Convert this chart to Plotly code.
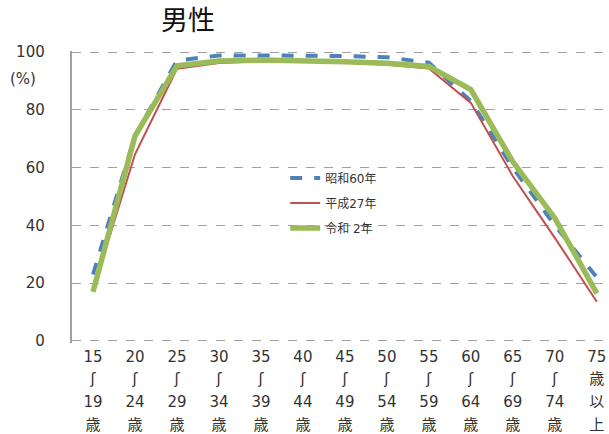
import plotly.graph_objects as go

ages_from = ["15", "20", "25", "30", "35", "40", "45", "50", "55", "60", "65", "70"]
ages_to = ["19", "24", "29", "34", "39", "44", "49", "54", "59", "64", "69", "74"]
categories = [f"{a}–{b}" for a, b in zip(ages_from, ages_to)] + ["75+"]
tick_labels = [f'<span style="font-size:15px">{a}<br>ʃ<br>{b}<br>歳</span>'
               for a, b in zip(ages_from, ages_to)] + \
              ['<span style="font-size:15px">75<br>歳<br>以<br>上</span>']
y_ticks = [0, 20, 40, 60, 80, 100]

s60 = [23, 71, 97, 98.8, 98.8, 98.8, 98.6, 98.2, 96.3, 83, 60, 40, 22]
h27 = [17.5, 64.6, 94.2, 96.2, 96.8, 96.8, 96.3, 95.6, 94.3, 82.4, 57, 35.7, 13.6]
r2 = [17, 70.9, 95.2, 96.9, 97.2, 97.0, 96.6, 96.1, 95.0, 87, 62, 42.5, 16.5]

font_family = "DejaVu Sans, Noto Sans CJK JP, sans-serif"

fig = go.Figure()
fig.add_trace(go.Scatter(x=categories, y=s60, mode="lines", name="昭和60年",
                         line=dict(color="#4F81BD", width=4, dash="dash"),
                         legendgroup="a"))
fig.add_trace(go.Scatter(x=categories, y=h27, mode="lines", name="平成27年",
                         line=dict(color="#C0504D", width=2),
                         legendgroup="b"))
fig.add_trace(go.Scatter(x=categories, y=r2, mode="lines", name="令和 2年",
                         line=dict(color="#9BBB59", width=5.5),
                         legendgroup="c"))

fig.update_layout(
    width=609, height=434,
    margin=dict(l=72, r=0, t=51, b=89),
    paper_bgcolor="white", plot_bgcolor="white",
    font=dict(family=font_family, color="#333333"),
    showlegend=True,
    legend=dict(x=0.397, y=0.615, xanchor="left", yanchor="top",
                font=dict(size=12, color="#333333"),
                traceorder="grouped", tracegroupgap=6,
                bgcolor="rgba(0,0,0,0)"),
    annotations=[
        dict(text="男性", xref="paper", yref="paper",
             x=(188 - 72) / 537, y=(343 - 20) / 291, xanchor="center", yanchor="middle",
             showarrow=False, font=dict(size=27, color="#111111",
                                        family="Noto Sans CJK JP, sans-serif")),
        dict(text="(%)", xref="paper", yref="paper",
             x=(23 - 72) / 537, y=(343 - 80) / 291, xanchor="center", yanchor="middle",
             showarrow=False, font=dict(size=15, color="#333333")),
    ],
)

fig.update_xaxes(
    type="category", range=[-0.5, 12.29],
    tickvals=categories, ticktext=tick_labels,
    showgrid=False, showline=False, zeroline=False, ticks="",
    tickfont=dict(size=17.5, color="#333333", family=font_family),
)
fig.update_yaxes(
    range=[-0.7, 100.35], tickvals=y_ticks,
    ticktext=[f"{v}\u2002\u2002\u2002" for v in y_ticks],
    showgrid=True, gridcolor="#A0A0A0", griddash="dash", gridwidth=1,
    showline=True, linecolor="#A0A0A0", linewidth=1.5,
    zeroline=False, ticks="",
    tickfont=dict(size=15, color="#333333"),
)

fig.write_html("out.html")
